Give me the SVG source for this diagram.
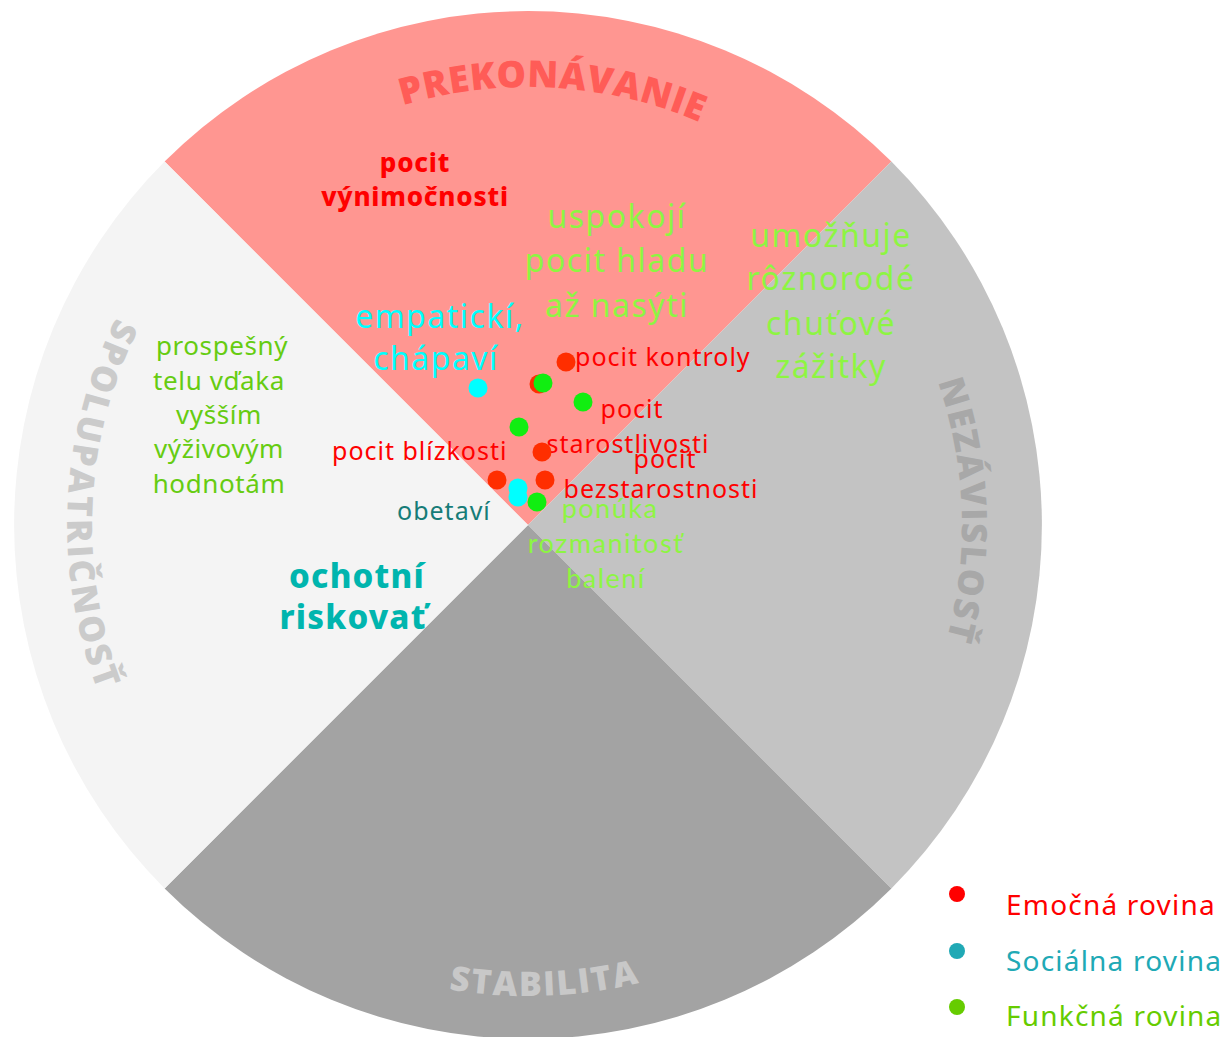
<svg xmlns="http://www.w3.org/2000/svg" width="1228" height="1037" viewBox="0 0 1228 1037">
<style>
.hd{font-family:"Open Sans","Liberation Sans",sans-serif;font-weight:800}
.t{font-family:"Noto Sans","Liberation Sans",sans-serif}
.l{font-family:Lato,"Liberation Sans",sans-serif}
.c{text-anchor:middle}
.red{fill:#FF0000}
.lg{fill:#8DF542}
.sm{font-size:25px;letter-spacing:1px}
.big{font-size:32px;letter-spacing:1.5px}
.dr{fill:#FF2E00}
.dg{fill:#11EE11}
.dc{fill:#00FFFF}
</style>
<defs>
<path id="arcTop" d="M161.7,284.9 A438,438 0 0 1 919.1,327.9"/>
<path id="arcBot" d="M129,775.3 A471,471 0 0 0 944.3,745.4"/>
<path id="arcLeft" d="M316.5,115.4 A461,461 0 0 0 279,912.9"/>
<path id="arcRight" d="M732.4,142.2 A434,434 0 0 1 757.3,893.5"/>
</defs>
<rect width="1228" height="1037" fill="#FFFFFF"/>
<g id="wheel">
<path d="M528,525 L164.6,161.6 A514,514 0 0 1 891.4,161.6 Z" fill="#FF9691"/>
<path d="M528,525 L891.4,161.6 A514,514 0 0 1 891.4,888.4 Z" fill="#C3C3C3"/>
<path d="M528,525 L891.4,888.4 A514,514 0 0 1 164.6,888.4 Z" fill="#A3A3A3"/>
<path d="M528,525 L164.6,888.4 A514,514 0 0 1 164.6,161.6 Z" fill="#F4F4F4"/>
</g>
<g id="sector-labels">
<text class="hd" font-size="37" fill="#FF5C57" letter-spacing="0.5"><textPath href="#arcTop" startOffset="50%" text-anchor="middle">PREKONÁVANIE</textPath></text>
<text class="hd" font-size="34" fill="#C8C8C8" letter-spacing="2"><textPath href="#arcBot" startOffset="50%" text-anchor="middle">STABILITA</textPath></text>
<text class="hd" font-size="35" fill="#CBCBCB" letter-spacing="3"><textPath href="#arcLeft" startOffset="50%" text-anchor="middle">SPOLUPATRIČNOSŤ</textPath></text>
<text class="hd" font-size="35" fill="#A8A8A8" letter-spacing="2"><textPath href="#arcRight" startOffset="50%" text-anchor="middle">NEZÁVISLOSŤ</textPath></text>
</g>
<g id="node-vynimocnosti"><text class="t c red" font-size="26" font-weight="800" letter-spacing="0.8"><tspan x="415" y="172">pocit</tspan><tspan x="415" y="206">výnimočnosti</tspan></text></g>
<g id="node-uspokoji"><text class="t c lg big"><tspan x="617" y="228">uspokojí</tspan><tspan x="617" y="272">pocit hladu</tspan><tspan x="617" y="317">až nasýti</tspan></text></g>
<g id="node-umoznuje"><text class="t c lg big"><tspan x="831" y="247">umožňuje</tspan><tspan x="831" y="290">rôznorodé</tspan><tspan x="831" y="335">chuťové</tspan><tspan x="831" y="378">zážitky</tspan></text></g>
<g id="node-empaticki"><text class="t c big" fill="#00FFFF"><tspan x="440" y="328">empatickí,</tspan><tspan x="436" y="370">chápaví</tspan></text></g>
<g id="node-kontroly"><text class="t red sm" x="575" y="366">pocit kontroly</text></g>
<g id="node-starostlivosti"><text class="t c red sm"><tspan x="632" y="418">pocit</tspan><tspan x="628" y="453">starostlivosti</tspan></text></g>
<g id="node-bezstarostnosti"><text class="t c red sm"><tspan x="665" y="468">pocit</tspan><tspan x="661" y="498">bezstarostnosti</tspan></text></g>
<g id="node-blizkosti"><text class="t red sm" x="332" y="460">pocit blízkosti</text></g>
<g id="node-obetavi"><text class="t sm" fill="#167C78" x="397" y="520">obetaví</text></g>
<g id="node-ponuka"><text class="l c lg" font-size="27" letter-spacing="1.5"><tspan x="610" y="518">ponúka</tspan><tspan x="606" y="553">rozmanitosť</tspan><tspan x="606" y="588">balení</tspan></text></g>
<g id="node-ochotni"><text class="t c" font-size="33" font-weight="800" letter-spacing="1.2" fill="#00B5AE"><tspan x="357" y="588">ochotní</tspan><tspan x="353" y="629">riskovať</tspan></text></g>
<g id="node-prospesny"><text class="t c" font-size="26" letter-spacing="0.6" fill="#66CC11"><tspan x="222" y="355">prospešný</tspan><tspan x="219" y="390">telu vďaka</tspan><tspan x="219" y="424">vyšším</tspan><tspan x="219" y="458">výživovým</tspan><tspan x="219" y="493">hodnotám</tspan></text></g>
<g id="dots">
<circle class="dr" cx="566" cy="362" r="9.5"/>
<circle class="dc" cx="478" cy="388" r="9.5"/>
<circle class="dr" cx="539" cy="384" r="9.5"/>
<circle class="dg" cx="543" cy="383" r="9.5"/>
<circle class="dg" cx="583" cy="402" r="9.5"/>
<circle class="dg" cx="519" cy="427" r="9.5"/>
<circle class="dr" cx="542" cy="452" r="9.5"/>
<circle class="dr" cx="497" cy="480" r="9.5"/>
<circle class="dr" cx="545" cy="480" r="9.5"/>
<circle class="dc" cx="518" cy="488" r="9.5"/>
<circle class="dc" cx="518" cy="497" r="9.5"/>
<circle class="dg" cx="537" cy="502" r="9.5"/>
</g>
<g id="legend">
<g id="legend-emocna"><circle cx="957" cy="894" r="8" fill="#FF0000"/><text class="t" font-size="28" letter-spacing="1.2" fill="#FF0000" x="1006" y="915">Emočná rovina</text></g>
<g id="legend-socialna"><circle cx="957" cy="951" r="8" fill="#20A9B5"/><text class="t" font-size="28" letter-spacing="1.2" fill="#20A9B5" x="1006" y="971">Sociálna rovina</text></g>
<g id="legend-funkcna"><circle cx="957" cy="1007" r="8" fill="#66CC00"/><text class="t" font-size="28" letter-spacing="1.2" fill="#66CC00" x="1006" y="1026">Funkčná rovina</text></g>
</g>
</svg>
